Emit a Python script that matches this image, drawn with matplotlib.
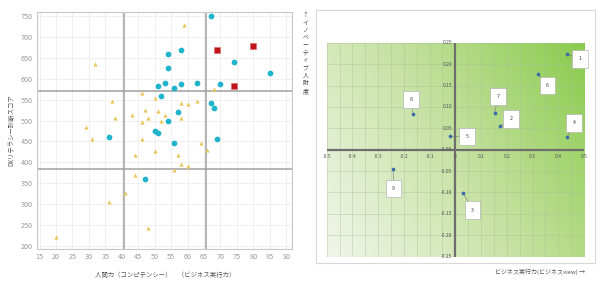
import numpy as np
import matplotlib
matplotlib.use("Agg")
import matplotlib.pyplot as plt
from matplotlib.colors import LinearSegmentedColormap

plt.rcParams['font.family'] = ['Noto Sans CJK JP', 'DejaVu Sans']

# ---- left scatter: competency vs DX literacy score ----
blue_x = [67, 54, 58, 54, 74, 85, 51, 53, 56, 58, 63, 70, 52, 67, 68, 57, 54, 50, 51, 36, 56, 69, 47]
blue_y = [750, 660, 670, 625, 640, 615, 583, 590, 577, 588, 590, 587, 560, 543, 530, 520, 498, 475, 470, 460, 446, 455, 360]

red_x = [69, 80, 74]
red_y = [670, 678, 583]

yellow_x = [59, 32, 68, 37, 46, 50, 63, 58, 60, 47, 51, 38, 43, 53, 57, 48, 46, 52, 58,
            29, 31, 46, 64, 50, 66, 44, 57, 58, 60, 56, 44, 41, 36, 48, 20]
yellow_y = [730, 635, 575, 547, 565, 553, 548, 543, 540, 525, 522, 505, 513, 513, 525, 505, 497, 500, 505,
            485, 455, 455, 447, 428, 430, 418, 418, 395, 390, 382, 370, 327, 305, 243, 222]

x_split = [40.7, 65.6]
y_split = [572, 383]

x_ticks = list(range(15, 95, 5))
y_ticks = list(range(200, 800, 50))

# ---- right scatter: business execution vs innovation ----
ids = ['1', '2', '3', '4', '5', '6', '7', '8', '9']
biz = [0.435, 0.174, 0.030, 0.435, -0.022, 0.322, 0.153, -0.164, -0.242]
inno = [0.223, 0.055, -0.101, 0.030, 0.031, 0.177, 0.086, 0.084, -0.046]
lab_dx = [0.049, 0.043, 0.036, 0.026, 0.067, 0.036, 0.013, -0.009, 0.002]
lab_dy = [-0.011, 0.017, -0.040, 0.033, 0.0, -0.027, 0.038, 0.033, -0.045]

r_xticks = np.round(np.arange(-0.5, 0.51, 0.1), 1)
r_yticks = np.round(np.arange(-0.25, 0.26, 0.05), 2)

fig = plt.figure(figsize=(6.0, 2.87), dpi=100)

# left chart
ax = fig.add_axes([0.062, 0.132, 0.425, 0.826])
ax.set_xlim(14.3, 91.8)
ax.set_ylim(192, 760)
ax.set_xticks(x_ticks)
ax.set_yticks(y_ticks)
ax.grid(True, color='#eeeeee', lw=0.6)
ax.set_axisbelow(True)
for v in x_split:
    ax.axvline(v, color='#a0a0a0', lw=1.1, zorder=1)
for v in y_split:
    ax.axhline(v, color='#a0a0a0', lw=1.1, zorder=1)
ax.scatter(yellow_x, yellow_y, marker='^', s=9, color='#e8c65a', zorder=3, linewidths=0)
ax.scatter(blue_x, blue_y, marker='o', s=17, color='#1fb3cc', zorder=4, linewidths=0)
ax.scatter(red_x, red_y, marker='s', s=21, color='#c0141c', edgecolors='#e07070',
           linewidths=0.5, zorder=5)
ax.tick_params(length=0, labelsize=5.2, labelcolor='#9a9a9a', pad=3)
for s in ax.spines.values():
    s.set_color('#c8c8c8')
    s.set_linewidth(0.8)
ax.set_xlabel('人間力（コンピテンシー）　（ビジネス実行力）', fontsize=4.6, color='#555555', labelpad=7)
ax.set_ylabel('DXリテラシー診断スコア', fontsize=4.6, color='#555555', labelpad=4)

# right chart: outer frame
frame = fig.add_axes([0.527, 0.084, 0.465, 0.882])
frame.set_xticks([])
frame.set_yticks([])
for s in frame.spines.values():
    s.set_color('#d8d8d8')
    s.set_linewidth(0.8)

rx = fig.add_axes([0.5445, 0.1056, 0.4288, 0.7456])
rx.set_xlim(-0.5, 0.5)
rx.set_ylim(-0.25, 0.25)

# green background shading toward the upper right
u, v = np.meshgrid(np.linspace(0, 1, 200), np.linspace(0, 1, 100))
t = np.clip(0.66 * u + 0.34 * v, 0, 1)
cmap = LinearSegmentedColormap.from_list('g', ['#f1f6ea', '#c6e2a2', '#8acb4c'])
rx.imshow(t, cmap=cmap, extent=[-0.5, 0.5, -0.25, 0.25], origin='lower',
          aspect='auto', zorder=0, vmin=0, vmax=1)

for gx in np.arange(-0.5, 0.51, 0.05):
    rx.axvline(gx, color='#a9bf98', lw=0.5, alpha=0.55, zorder=1)
for gy in np.arange(-0.25, 0.26, 0.05):
    rx.axhline(gy, color='#a9bf98', lw=0.5, alpha=0.55, zorder=1)
rx.axhline(0, color='#6e6e6e', lw=1.6, zorder=2)
rx.axvline(0, color='#6e6e6e', lw=1.6, zorder=2)
rx.set_xticks([])
rx.set_yticks([])
for s in rx.spines.values():
    s.set_visible(False)

for xv in r_xticks:
    rx.text(xv, -0.009, f'{xv:.1f}' if xv != 0 else '0', fontsize=3.6, color='#555555',
            ha='center', va='top', zorder=3)
for yv in r_yticks:
    rx.text(-0.012, yv, f'{yv:.2f}', fontsize=3.6, color='#555555',
            ha='right', va='center', zorder=3)

rx.scatter(biz, inno, s=7, color='#3b6aa8', zorder=5, linewidths=0)
for i in range(len(ids)):
    lx, ly = biz[i] + lab_dx[i], inno[i] + lab_dy[i]
    rx.plot([biz[i], lx], [inno[i], ly], color='#777777', lw=0.4, zorder=4)
    rx.text(lx, ly, ids[i], fontsize=3.8, color='#444444', ha='center', va='center', zorder=6,
            bbox=dict(boxstyle='square,pad=1.2', fc='white', ec='#aaaaaa', lw=0.4))

fig.text(0.509, 0.955, '↑\nイ\nノ\nベ\nー\nテ\nィ\nブ\n人\n財\n度', fontsize=4.2, color='#444444',
         ha='center', va='top', linespacing=1.6)
fig.text(0.975, 0.053, 'ビジネス実行力(ビジネスview) →', fontsize=4.3, color='#555555',
         ha='right', va='center')

fig.savefig('out.png', dpi=100, facecolor='white')
